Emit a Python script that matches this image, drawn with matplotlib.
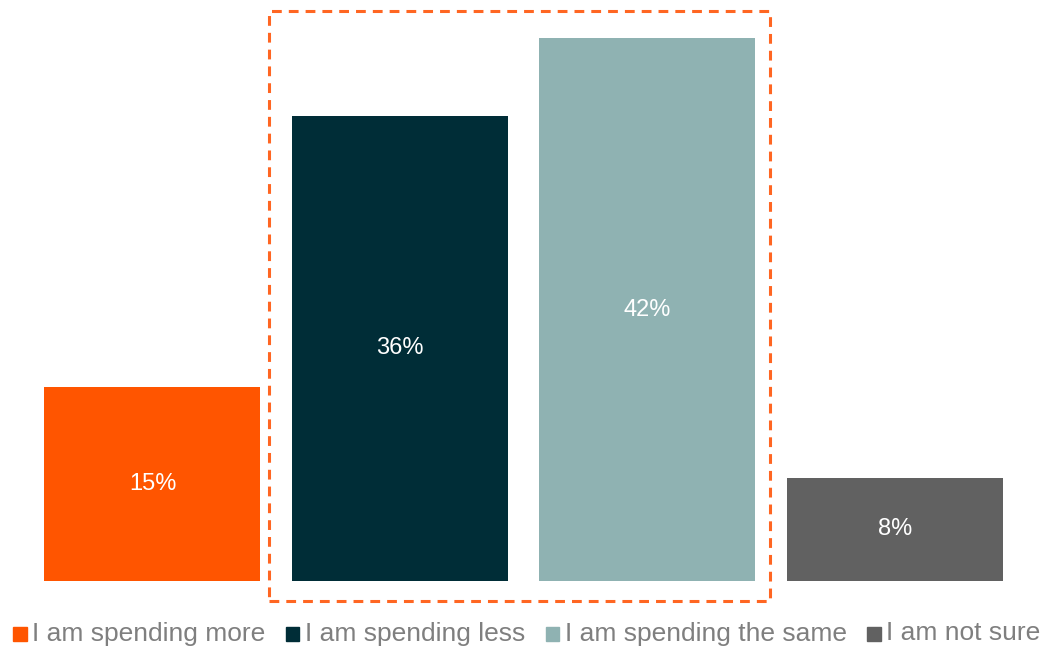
import matplotlib
matplotlib.use("Agg")
import matplotlib.pyplot as plt
from matplotlib.patches import Rectangle

categories = ["I am spending more", "I am spending less",
              "I am spending the same", "I am not sure"]
values = [15, 36, 42, 8]
labels = ["15%", "36%", "42%", "8%"]
colors = ["#FF5500", "#002D37", "#8FB2B2", "#616161"]

W, H, DPI = 1045, 647, 100
plt.rcParams["font.family"] = ["Liberation Sans", "DejaVu Sans"]

fig = plt.figure(figsize=(W / DPI, H / DPI), dpi=DPI)

def px_box(x0, y0, x1, y1):
    return [x0 / W, 1 - y1 / H, (x1 - x0) / W, (y1 - y0) / H]

ax = fig.add_axes(px_box(28.75, 11, 1018.5, 581))
x = range(len(values))
bars = ax.bar(x, values, width=0.873, color=colors)
ax.set_xlim(-0.5, 3.5)
ax.set_ylim(0, 42 * 570 / 543)
for b, lab in zip(bars, labels):
    ax.text(b.get_x() + b.get_width() / 2, b.get_height() / 2, lab,
            ha="center", va="center", color="white", fontsize=17)
ax.axis("off")

# dashed highlight frame around the middle two bars
fig.patches.append(Rectangle((269 / W, 1 - 601 / H), (770 - 269) / W, (601 - 11) / H,
                             transform=fig.transFigure, fill=False,
                             edgecolor="#FF6622", linewidth=2.2,
                             linestyle=(0, (3.2, 2.3))))

# legend row
fig.canvas.draw()
renderer = fig.canvas.get_renderer()
xpos = 13
ycen = 634
baseline = 640.5
sq = 13.5
for cat, col in zip(categories, colors):
    fig.patches.append(Rectangle((xpos / W, 1 - (ycen + sq / 2) / H), sq / W, sq / H,
                                 transform=fig.transFigure, color=col))
    t = fig.text((xpos + sq + 6) / W, 1 - baseline / H, cat, ha="left", va="baseline",
                 color="#7F7F7F", fontsize=19)
    bb = t.get_window_extent(renderer)
    xpos = bb.x1 + 20

fig.savefig("out.png", dpi=DPI)
